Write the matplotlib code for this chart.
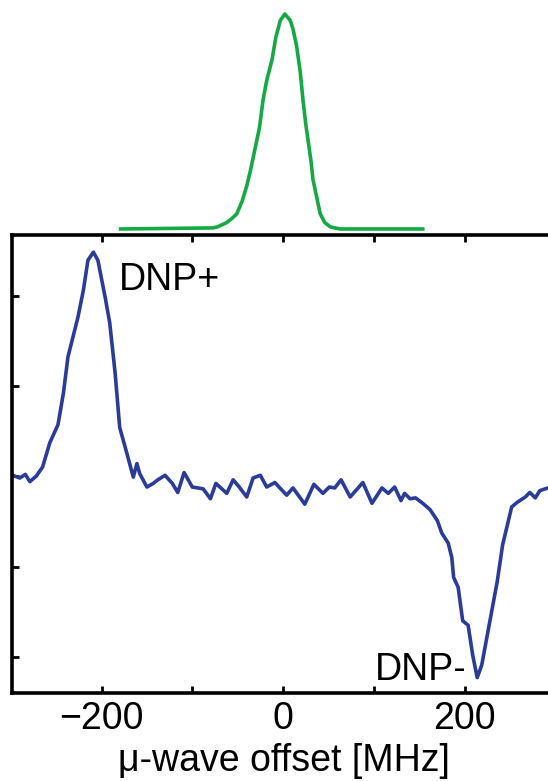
import numpy as np
import matplotlib.pyplot as plt

plt.rcParams['font.family'] = ['Liberation Sans', 'DejaVu Sans']

# microwave spectrum (green), offset in MHz vs normalised intensity
mw_offset = [-179, -77, -72, -62, -56, -51, -45, -40, -36, -31, -26, -22, -18, -12, -8,
             -3, 2, 8, 11, 15, 19, 22, 25, 28, 31, 33, 38, 41, 46, 52, 57, 63, 154]
mw_power = [0.0, 0.005, 0.01, 0.03, 0.05, 0.07, 0.13, 0.20, 0.27, 0.37, 0.47, 0.60,
            0.69, 0.79, 0.89, 0.97, 1.0, 0.97, 0.93, 0.85, 0.73, 0.60, 0.49, 0.40,
            0.31, 0.23, 0.13, 0.07, 0.03, 0.01, 0.005, 0.0, 0.0]

# DNP sweep (blue)
dnp_offset = [-298, -290, -284, -279, -272, -265, -257, -248, -242, -237, -226, -220,
              -215, -209, -204, -196, -191, -185, -180, -172, -165, -161, -158, -150,
              -143, -138, -130, -122, -116, -109, -100, -88, -80, -74, -62, -55, -49,
              -40, -33, -25, -18, -9, 4, 11, 24, 34, 44, 51, 57, 64, 74, 88, 98, 109,
              116, 123, 130, 134, 140, 146, 154, 162, 170, 175, 182, 186, 188, 193,
              198, 204, 209, 214, 219, 226, 236, 242, 252, 258, 267, 272, 278, 283,
              292, 300]
dnp_signal = [0.01, -0.02, 0.02, -0.06, 0.0, 0.10, 0.37, 0.57, 0.92, 1.32, 1.76, 2.06,
              2.39, 2.48, 2.39, 1.98, 1.70, 1.14, 0.54, 0.25, -0.01, 0.14, 0.03, -0.12,
              -0.08, -0.04, 0.01, -0.08, -0.18, 0.04, -0.12, -0.14, -0.25, -0.08, -0.19,
              -0.04, -0.11, -0.23, -0.02, 0.01, -0.12, -0.07, -0.21, -0.13, -0.31, -0.09,
              -0.19, -0.12, -0.13, -0.04, -0.23, -0.07, -0.30, -0.13, -0.19, -0.12, -0.27,
              -0.19, -0.25, -0.24, -0.30, -0.37, -0.49, -0.63, -0.74, -0.90, -1.12, -1.23,
              -1.60, -1.65, -1.98, -2.23, -2.09, -1.71, -1.17, -0.76, -0.34, -0.29, -0.23,
              -0.18, -0.24, -0.16, -0.13, -0.12]

fig = plt.figure(figsize=(5.48, 7.81), dpi=100)
W, H = 548.0, 781.0

# main axes (right edge runs past the figure, as in the cropped original)
x0, x1 = 11.7, 555.25
ax = fig.add_axes([x0 / W, 88 / H, (x1 - x0) / W, 458 / H])
ax.plot(dnp_offset, dnp_signal, color='#2b3c98', lw=2.6, solid_joinstyle='round')
ax.set_xlim(-299, 300)
ax.set_ylim(-2.40, 2.67)
ax.set_xticks([-200, 0, 200])
ax.set_xticks([-100, 100], minor=True)
ax.set_yticks([-2, -1, 0, 1, 2])
ax.set_yticklabels([])
ax.tick_params(which='both', direction='in', top=True, right=True, length=5, width=2,
               labelsize=27, pad=6)
for s in ax.spines.values():
    s.set_linewidth(2.6)
ax.set_xlabel('μ-wave offset [MHz]', fontsize=27, labelpad=4)
ax.text(-181, 2.06, 'DNP+', fontsize=27, ha='left', va='baseline')
ax.text(101, -2.26, 'DNP-', fontsize=27, ha='left', va='baseline')

# green microwave profile above
top = fig.add_axes([x0 / W, 546 / H, (x1 - x0) / W, 235 / H])
top.plot(mw_offset, mw_power, color='#16a845', lw=2.6, solid_joinstyle='round')
top.set_xlim(-299, 300)
top.set_ylim(-0.028, 1.065)
top.axis('off')

fig.savefig('out.png', dpi=100)
